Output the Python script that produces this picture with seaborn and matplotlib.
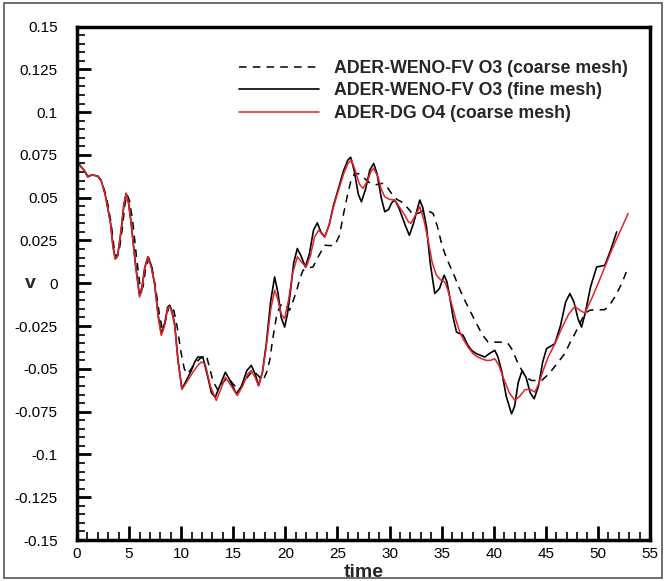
import matplotlib
matplotlib.use("Agg")
import matplotlib.pyplot as plt
import seaborn as sns
from matplotlib.patches import Rectangle
from matplotlib.ticker import MultipleLocator

# ---- data ----
t_coarse = [0, 0.4, 0.7, 1.04, 1.36, 1.7, 2.0, 2.32, 2.7, 3.0, 3.3, 3.55, 3.8, 4.05, 4.35, 4.6,
            4.8, 5.05, 5.35, 5.7, 6.1, 6.35, 6.6, 6.9, 7.2, 7.55, 7.9, 8.2, 8.5, 8.8, 9.0, 9.3,
            9.6, 10.0, 10.3, 10.6, 11.2, 11.8, 12.41, 12.75, 13.05, 13.53, 14.0, 14.49, 15.0,
            15.6, 16.2, 16.89, 17.4, 17.85, 18.2, 18.5, 18.8, 19.14, 19.5, 19.93, 20.41, 20.7,
            21.05, 21.4, 21.7, 22.2, 22.65, 23.2, 23.78, 24.3, 24.74, 25.2, 25.6, 26.0, 26.3,
            26.66, 27.0, 27.45, 28.0, 28.58, 29.0, 29.38, 29.8, 30.18, 30.7, 31.14, 31.6, 31.94,
            32.26, 32.8, 33.38, 33.8, 34.18, 34.6, 35.0, 35.3, 35.8, 36.26, 36.7, 37.22, 37.8,
            38.35, 38.9, 39.46, 40.42, 41.0, 41.38, 41.8, 42.2, 42.7, 43.1, 43.63, 44.6, 45.1,
            45.55, 46.2, 46.83, 47.3, 47.79, 48.3, 48.75, 49.2, 49.71, 50.2, 50.67, 51.2, 51.63,
            52.3, 52.91]
v_coarse = [0.071, 0.068, 0.066, 0.0622, 0.0632, 0.063, 0.0626, 0.060, 0.053, 0.045, 0.034,
            0.021, 0.015, 0.019, 0.032, 0.046, 0.052, 0.048, 0.036, 0.016, -0.004, -0.002,
            0.009, 0.0145, 0.009, -0.003, -0.018, -0.027, -0.022, -0.014, -0.0125, -0.016,
            -0.025, -0.041, -0.050, -0.053, -0.048, -0.044, -0.042, -0.050, -0.057, -0.0626,
            -0.058, -0.055, -0.059, -0.0626, -0.056, -0.051, -0.054, -0.057, -0.052, -0.045,
            -0.032, -0.0197, -0.013, -0.0119, -0.0158, -0.011, -0.0051, 0.003, 0.0076, 0.009,
            0.0095, 0.016, 0.0222, 0.022, 0.0222, 0.028, 0.041, 0.0525, 0.060, 0.0642, 0.064,
            0.0622, 0.059, 0.0574, 0.058, 0.0584, 0.056, 0.0525, 0.049, 0.0476, 0.045, 0.0425,
            0.040, 0.041, 0.0427, 0.042, 0.0408, 0.033, 0.023, 0.0174, 0.010, 0.0037, -0.003,
            -0.01, -0.017, -0.0236, -0.030, -0.0344, -0.0344, -0.0345, -0.0353, -0.039, -0.045,
            -0.051, -0.055, -0.0568, -0.0568, -0.054, -0.051, -0.046, -0.041, -0.035, -0.0295,
            -0.023, -0.0177, -0.0158, -0.0154, -0.0155, -0.0154, -0.012, -0.008, 0.000, 0.0095]

t_fine = [0, 0.4, 0.7, 1.04, 1.36, 1.7, 2.0, 2.32, 2.7, 2.96, 3.22, 3.45, 3.67, 3.9, 4.24, 4.5,
          4.72, 4.95, 5.2, 5.6, 6.0, 6.2, 6.5, 6.8, 7.1, 7.44, 7.8, 8.09, 8.4, 8.7, 8.89, 9.1,
          9.37, 9.7, 10.07, 10.4, 10.97, 11.3, 11.6, 12.08, 12.56, 12.9, 13.27, 13.7, 14.24,
          14.7, 15.29, 15.8, 16.3, 16.73, 17.1, 17.43, 17.8, 18.17, 18.6, 18.97, 19.3, 19.6,
          19.93, 20.2, 20.5, 20.8, 21.15, 21.5, 21.92, 22.3, 22.7, 23.07, 23.4, 23.78, 24.2,
          24.6, 25.05, 25.6, 26.0, 26.27, 26.6, 27.0, 27.3, 27.7, 28.1, 28.48, 28.8, 29.2,
          29.54, 29.9, 30.2, 30.5, 30.9, 31.5, 31.9, 32.3, 32.9, 33.2, 33.55, 33.9, 34.34,
          34.8, 35.24, 35.5, 35.78, 36.1, 36.43, 37.06, 37.5, 37.87, 38.35, 39.14, 39.6, 40.1,
          40.4, 40.75, 41.2, 41.71, 42.0, 42.35, 42.73, 43.1, 43.5, 43.88, 44.3, 44.7, 45.07,
          45.87, 46.4, 46.9, 47.31, 47.7, 48.1, 48.43, 48.8, 49.3, 49.88, 50.67, 51.2, 51.8]
v_fine = [0.071, 0.068, 0.066, 0.0622, 0.0632, 0.063, 0.0626, 0.060, 0.052, 0.0437, 0.035,
          0.022, 0.0145, 0.016, 0.031, 0.046, 0.0525, 0.047, 0.035, 0.012, -0.007, -0.004,
          0.009, 0.0154, 0.011, 0.0, -0.019, -0.0295, -0.024, -0.014, -0.0129, -0.016, -0.0236,
          -0.045, -0.0617, -0.058, -0.051, -0.046, -0.0431, -0.0431, -0.0549, -0.064, -0.0666,
          -0.060, -0.052, -0.057, -0.0646, -0.060, -0.051, -0.048, -0.053, -0.0597, -0.052,
          -0.0353, -0.01, 0.0037, -0.006, -0.020, -0.0256, -0.018, -0.0041, 0.012, 0.0203,
          0.016, 0.0095, 0.017, 0.031, 0.0353, 0.030, 0.0271, 0.034, 0.045, 0.0545, 0.066,
          0.072, 0.0736, 0.066, 0.052, 0.0476, 0.055, 0.066, 0.070, 0.064, 0.050, 0.0418,
          0.043, 0.047, 0.0486, 0.044, 0.034, 0.028, 0.035, 0.0486, 0.044, 0.033, 0.012,
          -0.006, -0.003, 0.0047, 0.001, -0.008, -0.02, -0.0285, -0.0304, -0.036, -0.0392,
          -0.0412, -0.0431, -0.041, -0.0392, -0.043, -0.051, -0.066, -0.0763, -0.072, -0.058,
          -0.051, -0.055, -0.064, -0.0675, -0.060, -0.046, -0.0382, -0.0353, -0.025, -0.011,
          -0.006, -0.011, -0.021, -0.0256, -0.017, -0.002, 0.0095, 0.0105, 0.019, 0.030]

t_dg = [0, 0.4, 0.7, 1.04, 1.36, 1.7, 2.0, 2.32, 2.7, 2.96, 3.22, 3.45, 3.67, 3.9, 4.24, 4.5,
        4.72, 4.95, 5.2, 5.6, 6.0, 6.2, 6.5, 6.8, 7.1, 7.44, 7.8, 8.09, 8.4, 8.7, 8.89, 9.1,
        9.37, 9.7, 10.07, 10.4, 11.12, 11.6, 11.93, 12.3, 12.8, 13.37, 13.8, 14.24, 14.8,
        15.39, 15.9, 16.4, 16.73, 17.1, 17.43, 17.8, 18.17, 18.6, 18.97, 19.3, 19.6, 19.93,
        20.3, 20.7, 21.15, 21.6, 22.0, 22.4, 22.8, 23.2, 23.78, 24.2, 24.6, 25.05, 25.6, 26.0,
        26.34, 26.7, 27.1, 27.45, 27.9, 28.2, 28.48, 28.9, 29.2, 29.54, 30.0, 30.5, 31.0,
        31.46, 31.8, 32.04, 32.5, 32.9, 33.3, 33.7, 34.1, 34.5, 34.9, 35.3, 35.6, 35.95, 36.4,
        36.74, 37.1, 37.54, 38.0, 38.35, 38.8, 39.31, 39.7, 40.1, 40.5, 40.9, 41.5, 42.03,
        42.5, 42.99, 43.5, 43.95, 44.3, 44.8, 45.23, 45.9, 46.51, 47.2, 47.79, 48.3, 48.75,
        49.4, 50.03, 50.7, 51.32, 52.1, 52.91]
v_dg = [0.071, 0.068, 0.066, 0.0622, 0.0632, 0.063, 0.0626, 0.060, 0.052, 0.0437, 0.035,
        0.021, 0.014, 0.016, 0.031, 0.046, 0.0525, 0.047, 0.035, 0.011, -0.008, -0.005, 0.009,
        0.015, 0.010, 0.0, -0.02, -0.0305, -0.025, -0.015, -0.0135, -0.017, -0.0245, -0.046,
        -0.062, -0.059, -0.052, -0.048, -0.046, -0.047, -0.060, -0.0685, -0.062, -0.0549,
        -0.060, -0.0656, -0.060, -0.053, -0.051, -0.055, -0.06, -0.052, -0.037, -0.015,
        -0.0041, -0.010, -0.018, -0.0207, -0.010, 0.006, 0.0154, 0.012, 0.0095, 0.016, 0.027,
        0.031, 0.027, 0.034, 0.044, 0.0535, 0.064, 0.070, 0.072, 0.066, 0.058, 0.0554, 0.060,
        0.065, 0.0672, 0.062, 0.055, 0.0505, 0.049, 0.0486, 0.044, 0.0398, 0.036, 0.035,
        0.040, 0.0447, 0.037, 0.0252, 0.012, 0.0047, 0.002, 0.0008, -0.004, -0.0119, -0.022,
        -0.0285, -0.033, -0.0373, -0.041, -0.0427, -0.044, -0.0451, -0.045, -0.0441, -0.048,
        -0.0549, -0.064, -0.0685, -0.066, -0.0622, -0.062, -0.0636, -0.059, -0.050, -0.0431,
        -0.035, -0.0265, -0.018, -0.0135, -0.016, -0.0174, -0.009, 0.0, 0.010, 0.0193, 0.030,
        0.0408]

labels = ["ADER-WENO-FV O3 (coarse mesh)", "ADER-WENO-FV O3 (fine mesh)", "ADER-DG O4 (coarse mesh)"]
x_ticks = [0, 5, 10, 15, 20, 25, 30, 35, 40, 45, 50, 55]
y_ticks = [-0.15, -0.125, -0.1, -0.075, -0.05, -0.025, 0, 0.025, 0.05, 0.075, 0.1, 0.125, 0.15]
y_ticklabels = ["-0.15", "-0.125", "-0.1", "-0.075", "-0.05", "-0.025", "0", "0.025", "0.05",
                "0.075", "0.1", "0.125", "0.15"]

sns.set_style("ticks")
plt.rcParams['font.family'] = ['Liberation Sans', 'DejaVu Sans']

fig = plt.figure(figsize=(6.67, 5.81), dpi=100)
ax = fig.add_axes([77 / 667, 1 - 540 / 581, 573 / 667, (540 - 26.5) / 581])

sns.lineplot(x=t_coarse, y=v_coarse, ax=ax, color="black", lw=1.1, sort=False,
             estimator=None, label=labels[0])
ax.lines[-1].set_dashes([5, 4])
sns.lineplot(x=t_fine, y=v_fine, ax=ax, color="black", lw=1.2, sort=False,
             estimator=None, label=labels[1])
sns.lineplot(x=t_dg, y=v_dg, ax=ax, color="#e3222b", lw=1.1, sort=False,
             estimator=None, label=labels[2])

ax.set_xlim(0, 55)
ax.set_ylim(-0.15, 0.15)
ax.set_xticks(x_ticks)
ax.set_xticklabels([str(v) for v in x_ticks])
ax.set_yticks(y_ticks)
ax.set_yticklabels(y_ticklabels)
ax.xaxis.set_minor_locator(MultipleLocator(1))
ax.yaxis.set_minor_locator(MultipleLocator(0.005))
ax.tick_params(axis='both', which='both', bottom=True, left=True, top=False, right=False,
               direction='in', color='black')
ax.tick_params(axis='both', which='major', length=10, width=2, labelsize=11, labelcolor='black')
ax.tick_params(axis='both', which='minor', length=6, width=1.2)
ax.tick_params(axis='x', which='major', pad=5)
ax.tick_params(axis='y', which='major', pad=14)
for s in ax.spines.values():
    s.set_linewidth(2.5)
    s.set_color('black')

ax.set_xlabel("time", fontsize=14, fontweight='bold', labelpad=2)
ax.set_ylabel("v", fontsize=14, fontweight='bold', rotation=0, va='center', ha='center')
ax.yaxis.set_label_coords(-0.082, 0.5)

leg = ax.legend(loc='upper right', bbox_to_anchor=(0.962, 0.935), frameon=False,
                prop={'weight': 'bold', 'size': 12.8}, handlelength=4.5, handletextpad=0.85,
                labelspacing=0.31, borderpad=0, borderaxespad=0)

fig.patches.append(Rectangle((4 / 667, 3 / 581), 658 / 667, 575 / 581, transform=fig.transFigure,
                             fill=False, edgecolor='#555555', lw=1.2))

fig.savefig("out.png", dpi=100)
